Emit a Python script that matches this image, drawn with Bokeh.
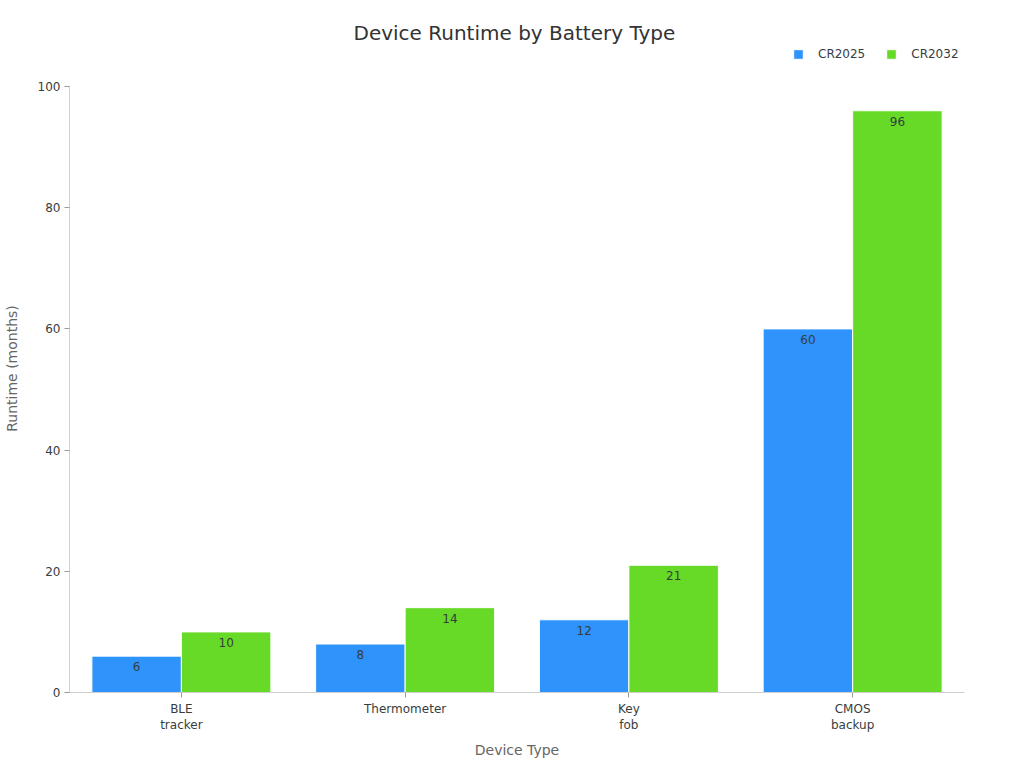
from bokeh.plotting import figure
from bokeh.models import ColumnDataSource, FactorRange, Range1d, Legend, LegendItem
from bokeh.transform import dodge
from bokeh.embed import file_html
from bokeh.resources import INLINE
from bokeh.core.properties import value

devices = ["BLE\ntracker", "Thermometer", "Key\nfob", "CMOS\nbackup"]
cr2025 = [6, 8, 12, 60]
cr2032 = [10, 14, 21, 96]
series_names = ["CR2025", "CR2032"]
colors = ["#2E93FA", "#66DA26"]
y_ticks = [0, 20, 40, 60, 80, 100]

FONT = "DejaVu Sans"

src = ColumnDataSource(data=dict(
    device=devices,
    cr2025=cr2025,
    cr2032=cr2032,
    l2025=[str(v) for v in cr2025],
    l2032=[str(v) for v in cr2032],
))

p = figure(
    frame_width=895, frame_height=648,
    x_range=FactorRange(*devices, range_padding=0),
    y_range=Range1d(0, 106.93),
    output_backend="svg", toolbar_location=None,
    title="Device Runtime by Battery Type",
    min_border_left=60, min_border_right=53, min_border_bottom=0, min_border_top=44,
)
p.outline_line_color = None
p.grid.grid_line_color = None

p.title.align = "left"
p.title.offset = 284
p.title.text_font = FONT
p.title.text_font_size = "20px"
p.title.text_font_style = "normal"
p.title.text_color = "#333333"
p.title.standoff = 0

r1 = p.vbar(x=dodge("device", -0.2, range=p.x_range), top="cr2025", width=0.4, source=src,
            fill_color=colors[0], line_color="white", line_width=1)
r2 = p.vbar(x=dodge("device", 0.2, range=p.x_range), top="cr2032", width=0.4, source=src,
            fill_color=colors[1], line_color="white", line_width=1)

for key, lab, off in (("cr2025", "l2025", -0.2), ("cr2032", "l2032", 0.2)):
    p.text(x=dodge("device", off, range=p.x_range), y=key, text=lab, source=src,
           text_align="center", text_baseline="top", y_offset=6,
           text_font=value(FONT), text_font_size="12px", text_color="#373d3f")

legend = Legend(items=[LegendItem(label=series_names[0], renderers=[r1]),
                       LegendItem(label=series_names[1], renderers=[r2])],
                orientation="horizontal", location=(723, 631))
legend.label_text_font = FONT
legend.label_text_font_size = "12px"
legend.label_text_color = "#373d3f"
legend.glyph_width = 12
legend.glyph_height = 12
legend.label_height = 12
legend.spacing = 20
legend.label_standoff = 14
legend.border_line_color = None
legend.background_fill_alpha = 0
legend.padding = 3
legend.margin = 0
p.add_layout(legend)

p.yaxis.ticker = y_ticks
p.yaxis.bounds = (0, 100)
p.yaxis.axis_label = "Runtime (months)"
p.xaxis.axis_label = "Device Type"
for ax in (p.xaxis[0], p.yaxis[0]):
    ax.axis_label_text_font = FONT
    ax.axis_label_text_font_size = "14px"
    ax.axis_label_text_font_style = "normal"
    ax.axis_label_text_color = "#666666"
    ax.major_label_text_font = FONT
    ax.major_label_text_font_size = "12px"
    ax.major_label_text_color = "#373d3f"
    ax.axis_line_color = "#d0d0d0"
    ax.major_tick_line_color = "#999999"
    ax.minor_tick_line_color = None
    ax.major_tick_out = 5
    ax.major_tick_in = 0
p.yaxis.major_label_standoff = 4
p.xaxis.major_label_standoff = 4
p.yaxis.axis_label_standoff = 15
p.xaxis.axis_label_standoff = 7

open("out.html", "w").write(file_html(p, INLINE))
